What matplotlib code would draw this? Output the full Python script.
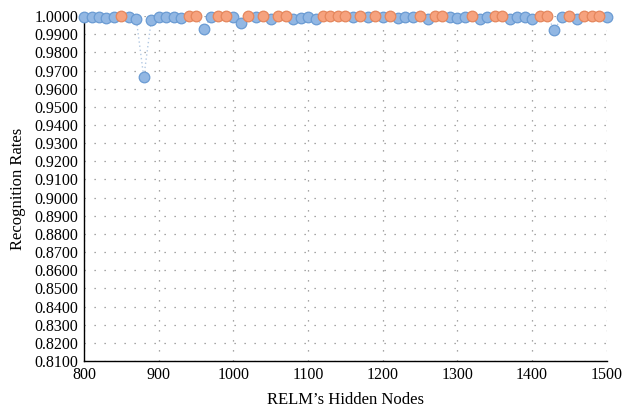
import matplotlib
matplotlib.use("Agg")
import matplotlib.pyplot as plt
import numpy as np

nodes = list(range(800, 1501, 10))
rates = [
    0.9994, 0.9994, 0.9994, 0.9990, 0.9994, 1.0000, 0.9994, 0.9982, 0.9662, 0.9978,  # 800-890
    0.9994, 0.9994, 0.9994, 0.9990, 1.0000, 1.0000, 0.9928, 0.9994, 1.0000, 1.0000,  # 900-990
    0.9994, 0.9963, 1.0000, 0.9994, 1.0000, 0.9982, 1.0000, 1.0000, 0.9986, 0.9988,  # 1000-1090
    0.9994, 0.9986, 1.0000, 1.0000, 1.0000, 1.0000, 0.9994, 1.0000, 0.9994, 1.0000,  # 1100-1190
    0.9994, 1.0000, 0.9988, 0.9994, 0.9994, 1.0000, 0.9986, 1.0000, 1.0000, 0.9994,  # 1200-1290
    0.9992, 0.9994, 1.0000, 0.9984, 0.9994, 1.0000, 1.0000, 0.9984, 0.9994, 0.9994,  # 1300-1390
    0.9984, 1.0000, 1.0000, 0.9925, 0.9994, 1.0000, 0.9986, 1.0000, 1.0000, 1.0000,  # 1400-1490
    0.9994,                                                                          # 1500
]
yticks = [round(0.81 + 0.01 * i, 2) for i in range(20)]
xticks = list(range(800, 1501, 100))

plt.rcParams['font.family'] = ['Liberation Serif', 'DejaVu Serif']

fig = plt.figure(figsize=(6.32, 4.13), dpi=100)
ax = fig.add_axes([0.133, 0.126, 0.827, 0.835])

nodes_a = np.array(nodes)
rates_a = np.array(rates)
best = rates_a >= 1.0

ax.plot(nodes_a, rates_a, ls=(0, (1, 2)), color='#b3c9e3', lw=1.0, zorder=2, clip_on=False)
ax.scatter(nodes_a[~best], rates_a[~best], s=58, color='#92b7e3', edgecolor='#6a9bd3',
           linewidth=0.9, zorder=3, clip_on=False)
ax.scatter(nodes_a[best], rates_a[best], s=58, color='#f6a27e', edgecolor='#e5865c',
           linewidth=0.9, zorder=4, clip_on=False)

ax.set_xlim(800, 1500)
ax.set_ylim(0.81, 1.0)
ax.set_xticks(xticks)
ax.set_yticks(yticks)
ax.set_xticklabels([str(x) for x in xticks], fontsize=11.5)
ax.set_yticklabels([f"{y:.4f}" for y in yticks], fontsize=11.5)
ax.tick_params(length=0, pad=4)

ax.grid(True, color='#8a8a8a', ls=(0, (1, 7)), lw=0.9)
ax.set_axisbelow(True)
for s in ['top', 'right']:
    ax.spines[s].set_visible(False)
for s in ['left', 'bottom']:
    ax.spines[s].set_color('black')
    ax.spines[s].set_linewidth(1.0)

ax.set_xlabel("RELM’s Hidden Nodes", fontsize=12, labelpad=7)
ax.set_ylabel("Recognition Rates", fontsize=12, labelpad=6)

fig.savefig("out.png", dpi=100)
